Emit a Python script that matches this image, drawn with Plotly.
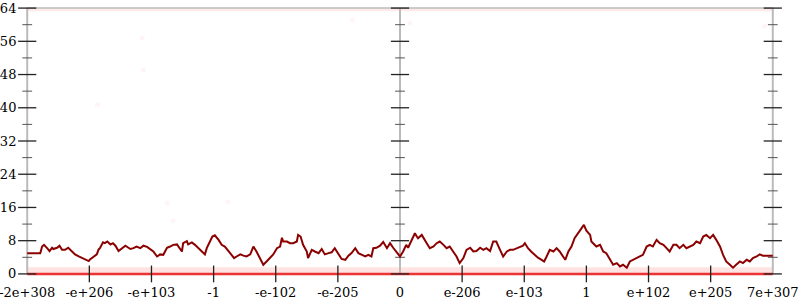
import plotly.graph_objects as go

# ---- data ----
tick_labels = ["-2e+308", "-e+206", "-e+103", "-1", "-e-102", "-e-205", "0",
               "e-206", "e-103", "1", "e+102", "e+205", "7e+307"]
y_major = [0, 8, 16, 24, 32, 40, 48, 56, 64]
y_minor = [4, 12, 20, 28, 36, 44, 52, 60]
axis_positions = [0, 6, 12]

positions = [0.00, 0.21, 0.24, 0.27, 0.32, 0.36, 0.40, 0.42, 0.48, 0.52, 0.56, 0.61, 0.66, 0.72, 0.77, 0.83, 0.88, 0.93, 0.99, 1.01,
             1.07, 1.12, 1.15, 1.17, 1.22, 1.25, 1.29, 1.34, 1.38, 1.42, 1.47, 1.52, 1.58, 1.60, 1.66, 1.71, 1.76, 1.82, 1.87, 1.93,
             1.98, 2.03, 2.09, 2.14, 2.19, 2.25, 2.30, 2.35, 2.41, 2.46, 2.49, 2.51, 2.57, 2.59, 2.65, 2.70, 2.76, 2.81, 2.86, 2.89,
             2.94, 2.98, 3.02,
             3.08, 3.13, 3.18, 3.24, 3.29, 3.33, 3.37, 3.43, 3.48, 3.53, 3.59, 3.64, 3.69, 3.75, 3.80, 3.86, 3.91, 3.96, 4.02, 4.07,
             4.10, 4.12, 4.18, 4.23, 4.28, 4.34, 4.36, 4.40, 4.44, 4.50, 4.52, 4.58, 4.63, 4.69, 4.74, 4.79, 4.85, 4.90, 4.95, 5.01,
             5.06, 5.12, 5.17, 5.22, 5.28, 5.33, 5.38, 5.44, 5.49, 5.54, 5.57, 5.62, 5.68, 5.73, 5.79, 5.84, 5.89, 5.95, 6.00,
             6.05, 6.10, 6.13, 6.19, 6.24, 6.27, 6.29, 6.35, 6.39, 6.43, 6.48, 6.54, 6.59, 6.64, 6.70, 6.75, 6.80, 6.86, 6.91, 6.96,
             7.02, 7.07, 7.13, 7.18, 7.23, 7.29, 7.34, 7.39, 7.45, 7.50, 7.55, 7.61, 7.66, 7.72, 7.77, 7.82, 7.88, 7.93, 7.98, 8.01,
             8.06, 8.11, 8.17, 8.22, 8.28, 8.32, 8.36, 8.41, 8.47, 8.52, 8.57, 8.63, 8.66, 8.71, 8.76, 8.81, 8.87, 8.92, 8.96, 9.00,
             9.06, 9.08,
             9.11, 9.16, 9.22, 9.27, 9.32, 9.38, 9.43, 9.49, 9.54, 9.59, 9.65, 9.70, 9.75, 9.81, 9.86, 9.91, 9.97, 10.02, 10.07, 10.13,
             10.18, 10.24, 10.29, 10.34, 10.40, 10.45, 10.50, 10.56, 10.61, 10.66, 10.72, 10.77, 10.83, 10.88, 10.93, 10.99, 11.04,
             11.09, 11.15, 11.20, 11.25, 11.31, 11.36, 11.41, 11.47, 11.52, 11.58, 11.63, 11.68, 11.74, 11.79, 11.84, 12.00]

counts = [5.0, 5.0, 6.6, 7.0, 6.2, 5.5, 6.3, 6.0, 6.3, 6.8, 5.8, 5.8, 6.3, 5.4, 4.7, 4.2, 3.9, 3.5, 3.1, 3.5,
          4.2, 4.7, 5.9, 6.2, 7.6, 7.4, 7.8, 7.1, 7.4, 6.8, 5.5, 6.2, 6.8, 6.6, 6.0, 6.2, 6.6, 6.2, 6.8, 6.5,
          6.0, 5.4, 4.2, 4.7, 4.6, 6.3, 6.6, 7.0, 7.1, 6.2, 5.4, 7.4, 7.9, 7.1, 7.6, 7.0, 6.2, 5.4, 4.7, 6.2,
          7.8, 9.0, 9.3,
          8.2, 7.0, 6.6, 5.5, 4.6, 3.8, 4.2, 4.7, 4.4, 4.2, 4.7, 6.6, 5.4, 3.8, 2.2, 3.1, 3.9, 4.7, 6.2, 6.6,
          8.7, 7.8, 7.8, 7.4, 7.4, 7.8, 9.4, 9.0, 7.0, 5.4, 3.8, 5.8, 5.4, 5.0, 6.0, 4.7, 5.0, 5.2, 6.2, 4.6,
          3.6, 3.4, 4.4, 5.0, 6.2, 5.0, 4.6, 4.2, 4.6, 4.2, 6.2, 6.3, 6.8, 7.7, 6.2, 7.4, 6.3, 5.2, 4.2,
          5.4, 7.0, 6.3, 8.2, 9.8, 9.0, 8.6, 9.4, 8.2, 7.4, 6.2, 6.6, 7.4, 7.8, 7.0, 6.2, 6.6, 5.4, 4.2, 2.6,
          3.8, 5.8, 6.3, 5.4, 5.5, 6.3, 5.8, 6.2, 5.5, 7.8, 7.8, 5.8, 4.2, 5.4, 5.8, 5.8, 6.2, 6.6, 6.8, 7.4,
          6.2, 5.4, 4.6, 3.9, 3.4, 3.0, 4.2, 5.8, 5.4, 6.2, 5.4, 4.2, 3.4, 5.4, 6.6, 8.6, 9.8, 11.0, 11.8, 10.4,
          9.4, 7.8,
          7.4, 6.6, 7.0, 5.4, 5.0, 3.4, 2.2, 2.6, 1.8, 2.2, 1.5, 3.0, 3.4, 3.8, 4.2, 4.6, 6.6, 7.0, 6.6, 8.2,
          7.4, 7.0, 6.2, 5.4, 7.0, 7.0, 6.2, 7.0, 6.2, 6.6, 7.0, 7.8, 7.4, 9.0, 9.4, 8.6, 9.4,
          8.2, 6.6, 4.6, 3.0, 2.2, 1.5, 2.2, 3.0, 2.6, 3.4, 3.0, 3.8, 4.2, 4.7, 4.4, 4.4]

# sparse faint sample points
stray_x = [1.85, 1.87, 1.13, 6.16, 5.23, 11.87, 2.25, 2.35, 3.23]
stray_y = [56.8, 49.1, 40.7, 60.4, 61.1, 59.6, 17.1, 12.8, 17.3]

x_span = [0, 12]
band_low = 0.9
band_high = 63.6
zero_level = 0

FONT = "DejaVu Serif"

fig = go.Figure()

# faint sample bands
fig.add_trace(go.Scatter(x=x_span, y=[band_low, band_low], mode="lines",
                         line=dict(color="rgba(255,40,40,0.13)", width=6), hoverinfo="skip"))
fig.add_trace(go.Scatter(x=x_span, y=[band_high, band_high], mode="lines",
                         line=dict(color="rgba(255,40,40,0.10)", width=3), hoverinfo="skip"))
fig.add_trace(go.Scatter(x=stray_x, y=stray_y, mode="markers",
                         marker=dict(color="rgba(255,60,60,0.05)", size=5), hoverinfo="skip"))

# axis lines
for ax in axis_positions:
    fig.add_trace(go.Scatter(x=[ax, ax], y=[0, 64], mode="lines",
                             line=dict(color="#bbbbbb", width=2), hoverinfo="skip"))
fig.add_trace(go.Scatter(x=x_span, y=[64, 64], mode="lines",
                         line=dict(color="#bbbbbb", width=1.5), hoverinfo="skip"))

# zero line (red)
fig.add_trace(go.Scatter(x=x_span, y=[zero_level, zero_level], mode="lines",
                         line=dict(color="rgba(235,30,30,0.9)", width=2.5), hoverinfo="skip"))

# ticks
for ax in axis_positions:
    fig.add_trace(go.Scatter(x=[ax] * len(y_major), y=y_major, mode="markers", cliponaxis=False,
                             marker=dict(symbol="line-ew", size=13, line=dict(color="#222222", width=1.3)),
                             hoverinfo="skip"))
    fig.add_trace(go.Scatter(x=[ax] * len(y_minor), y=y_minor, mode="markers", cliponaxis=False,
                             marker=dict(symbol="line-ew", size=7, line=dict(color="#555555", width=1)),
                             hoverinfo="skip"))
x_inner = [i for i in range(13) if i not in axis_positions]
fig.add_trace(go.Scatter(x=x_inner, y=[0] * len(x_inner), mode="markers", cliponaxis=False,
                         marker=dict(symbol="line-ns", size=12, line=dict(color="#222222", width=1.3)),
                         hoverinfo="skip"))

# main series
fig.add_trace(go.Scatter(x=positions, y=counts, mode="lines",
                         line=dict(color="#8b0000", width=2), hoverinfo="skip"))

fig.update_layout(
    width=800, height=300, autosize=False,
    margin=dict(l=21, r=21, t=6, b=24, pad=0),
    paper_bgcolor="white", plot_bgcolor="white",
    showlegend=False,
    xaxis=dict(range=[-0.1, 12.1], tickvals=list(range(13)), ticktext=tick_labels,
               showgrid=False, zeroline=False, showline=False, automargin=False,
               ticklabeloverflow="allow",
               ticks="outside", ticklen=4, tickcolor="rgba(0,0,0,0)",
               tickfont=dict(family=FONT, size=13, color="black")),
    yaxis=dict(range=[-0.5, 64.5], tickvals=y_major,
               showgrid=False, zeroline=False, showline=False, automargin=False,
               ticklabeloverflow="allow",
               ticks="outside", ticklen=1, tickcolor="rgba(0,0,0,0)",
               tickfont=dict(family=FONT, size=13, color="black")),
)

fig.write_html("out.html")
